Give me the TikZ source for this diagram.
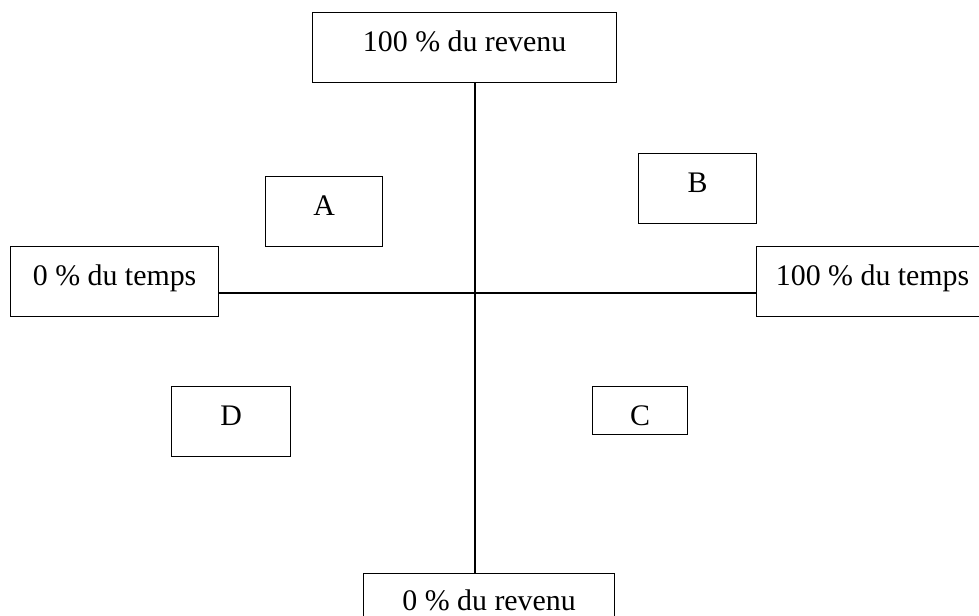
\documentclass[tikz,border=0pt]{standalone}
\usepackage{fontspec}
\setmainfont{Liberation Serif}
\usetikzlibrary{calc}

\tikzset{
    quadbox/.style={draw, line width=0.7pt, anchor=north west,
        inner xsep=0pt, inner ysep=0pt,
        text height=0.78cm, text depth=0.62cm,
        font=\fontsize{17}{20}\selectfont},
    axis line/.style={line width=0.7pt},
}

\begin{document}
\begin{tikzpicture}[x=0.02cm, y=-0.02cm]
    \useasboundingbox (0,0) rectangle (979,615);

    % axis ends
    \node[quadbox, minimum width=6.08cm] (rev100) at (312,12) {100 \% du revenu};
    \node[quadbox, minimum width=5.02cm, text height=0.74cm] (rev0) at (363,573) {0 \% du revenu};
    \node[quadbox, minimum width=4.16cm] (tps0) at (10,246) {0 \% du temps};
    \node[quadbox, minimum width=4.64cm] (tps100) at (756,246) {100 \% du temps};

    % quadrants
    \node[quadbox, minimum width=2.34cm] (qA) at (265,176) {A};
    \node[quadbox, minimum width=2.36cm] (qB) at (638,153) {B};
    \node[quadbox, minimum width=1.90cm, text depth=0.18cm] (qC) at (592,386) {C};
    \node[quadbox, minimum width=2.38cm] (qD) at (171,386) {D};

    \coordinate (o) at (475,293);
    \draw[axis line] (o |- rev100.south) -- (o |- rev0.north);
    \draw[axis line] (tps0.east |- o) -- (tps100.west |- o);

\end{tikzpicture}
\end{document}
